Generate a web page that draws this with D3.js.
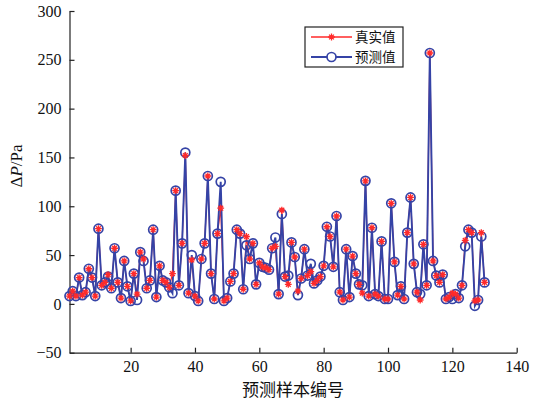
<!DOCTYPE html>
<html><head><meta charset="utf-8">
<script src="https://cdn.jsdelivr.net/npm/d3@7"></script>
<style>body{margin:0;background:#fff}</style>
</head><body>
<svg id="c" width="547" height="405"></svg>
<script>
const predicted = [8,13,8,27,9,12,36,27,8,77,19,22,28,16,57,22,6,44,18,3,31,4,53,44,16,24,76,7,39,24,22,17,11,116,19,62,155,11,50,8,3,46,62,131,31,5,72,125,3,6,23,31,76,72,15,60,46,62,20,42,38,37,35,57,68,10,92,28,29,63,48,9,26,56,29,41,21,24,28,39,79,69,38,90,12,4,56,7,49,31,20,19,126,8,78,10,8,64,5,5,103,43,9,18,5,73,109,41,12,10,61,19,257,44,29,22,30,5,7,5,10,6,19,59,76,73,-2,4,69,22];
const actualDiff = {13:30,22:10,24:46,33:31,37:152,39:45,48:98,56:69,65:59,67:96,69:20,72:13,76:33,92:11,110:4,120:11,124:65,127:3,129:73};
const actual = predicted.map((v,i)=> actualDiff[i+1]!==undefined ? actualDiff[i+1] : v);
const xTicks = [20,40,60,80,100,120,140];
const yTicks = [-50,0,50,100,150,200,250,300];
const legendLabels = ["真实值","预测值"];
const xLabel = "预测样本编号";

const svg = d3.select("#c");
const L=69.5, R=516.7, T=11, B=352.7;
const x = d3.scaleLinear().domain([1,140]).range([L,R]);
const y = d3.scaleLinear().domain([-50,300]).range([B,T]);
const red="#ff2a2a", blue="#3543a6";
const font="'Liberation Serif','Times New Roman',serif";

const xa = svg.append("g").attr("transform",`translate(0,${B})`)
  .call(d3.axisBottom(x).tickValues(xTicks).tickSizeInner(-5).tickSizeOuter(0).tickPadding(10));
const ya = svg.append("g").attr("transform",`translate(${L},0)`)
  .call(d3.axisLeft(y).tickValues(yTicks).tickSizeInner(-5).tickSizeOuter(0).tickPadding(8)
  .tickFormat(d=> d<0 ? "−"+Math.abs(d) : d));
[xa,ya].forEach(a=>{
  a.selectAll("text").attr("font-family",font).attr("font-size",16).attr("fill","#111");
  a.selectAll("line,path").attr("stroke","#222").attr("stroke-width",1.2);
});
xa.selectAll("text").attr("dy","0.6em");

const line = d3.line().x((d,i)=>x(i+1)).y(d=>y(d));

function starPath(cx,cy,s){
  let p="";
  for(let k=0;k<4;k++){const a=k*Math.PI/4;const dx=Math.cos(a)*s,dy=Math.sin(a)*s;
    p+=`M${cx-dx},${cy-dy}L${cx+dx},${cy+dy}`;}
  return p;
}

svg.append("path").datum(actual).attr("d",line).attr("fill","none").attr("stroke",red).attr("stroke-width",1.2);
svg.append("path").datum(predicted).attr("d",line).attr("fill","none").attr("stroke",blue).attr("stroke-width",1.9);
svg.append("g").selectAll("circle").data(predicted).join("circle")
  .attr("cx",(d,i)=>x(i+1)).attr("cy",d=>y(d)).attr("r",4.5)
  .attr("fill","none").attr("stroke",blue).attr("stroke-width",1.7);
svg.append("g").selectAll("path").data(actual).join("path")
  .attr("d",(d,i)=>starPath(x(i+1),y(d),3.4))
  .attr("stroke",red).attr("stroke-width",1.3).attr("fill","none");

// legend
const lg = svg.append("g");
lg.append("rect").attr("x",305).attr("y",27).attr("width",98).attr("height",40)
  .attr("fill","#fff").attr("stroke","#222").attr("stroke-width",1.2);
const rowY = [37, 57];
lg.append("line").attr("x1",311).attr("x2",352).attr("y1",rowY[0]).attr("y2",rowY[0]).attr("stroke",red).attr("stroke-width",1.3);
lg.append("path").attr("d",starPath(331.5,rowY[0],3.4)).attr("stroke",red).attr("stroke-width",1.3);
lg.append("line").attr("x1",311).attr("x2",352).attr("y1",rowY[1]).attr("y2",rowY[1]).attr("stroke",blue).attr("stroke-width",1.9);
lg.append("circle").attr("cx",331.5).attr("cy",rowY[1]).attr("r",4.5).attr("fill","#fff").attr("stroke",blue).attr("stroke-width",1.7);
lg.selectAll("text.l").data(legendLabels).join("text").attr("class","l")
  .attr("x",355).attr("y",(d,i)=>rowY[i]).attr("dy","0.36em")
  .attr("font-family","'Noto Sans CJK SC',sans-serif").attr("font-size",13.5).attr("fill","#111").text(d=>d);

svg.append("text").attr("x",293).attr("y",396).attr("text-anchor","middle")
  .attr("font-family","'Noto Sans CJK SC',sans-serif").attr("font-size",17).attr("fill","#111").text(xLabel);
const yl = svg.append("text").attr("transform","translate(22,166) rotate(-90)").attr("text-anchor","middle")
  .attr("font-family",font).attr("font-size",17).attr("fill","#111");
yl.append("tspan").text("Δ");
yl.append("tspan").attr("font-style","italic").text("P");
yl.append("tspan").text("/Pa");
</script>
</body></html>
